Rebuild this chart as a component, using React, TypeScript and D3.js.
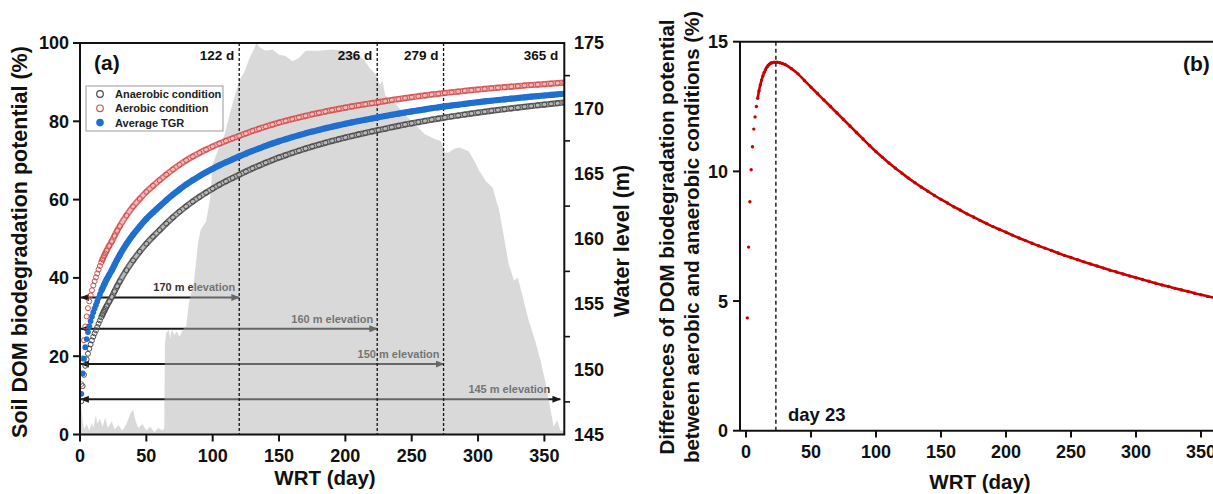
import React from 'react';
import * as d3 from 'd3';

// ---------- data ----------
const days = [1,2,3,4,5,6,7,8,9,10,11,12,13,14,15,16,17,18,19,20,22,24,26,28,30,
  35,40,45,50,55,60,65,70,75,80,85,90,95,100,105,110,115,120,125,130,135,140,145,150,
  155,160,165,170,175,180,185,190,195,200,205,210,215,220,225,230,235,240,245,250,
  255,260,265,270,275,280,285,290,295,300,305,310,315,320,325,330,335,340,345,350,355,360,365];

const anaerobic = [8.5,12.36,15.25,17.55,19.2,20.63,21.91,23.03,24.03,24.97,25.83,26.62,27.45,28.31,29.13,29.92,30.66,31.39,32.06,32.74,33.97,35.14,36.54,37.88,39.12,
  41.97,44.47,46.7,48.73,50.52,52.2,53.89,55.45,56.9,58.28,59.52,60.68,61.77,62.81,63.78,64.68,65.53,66.35,67.17,67.98,68.69,69.42,70.1,70.75,
  71.34,71.93,72.49,73.04,73.56,74.04,74.52,74.99,75.41,75.84,76.26,76.66,77.03,77.4,77.76,78.12,78.5,78.83,79.17,79.48,
  79.8,80.1,80.41,80.68,80.97,81.23,81.47,81.74,81.98,82.22,82.45,82.68,82.89,83.09,83.31,83.5,83.71,83.9,84.09,84.27,84.45,84.63,84.8];

const aerobic = [12.85,19.44,24.08,27.61,30.15,32.26,34.01,35.53,36.85,38.07,39.16,40.14,41.13,42.12,43.05,43.93,44.74,45.52,46.23,46.93,48.18,49.35,50.73,52.04,53.24,
  55.93,58.23,60.2,61.98,63.52,64.95,66.39,67.7,68.9,70.03,71.02,71.93,72.77,73.57,74.32,75.0,75.65,76.28,76.91,77.54,78.08,78.65,79.17,79.67,
  80.12,80.56,80.99,81.4,81.8,82.15,82.51,82.86,83.17,83.49,83.8,84.09,84.36,84.63,84.89,85.16,85.45,85.68,85.93,86.16,
  86.39,86.61,86.84,87.03,87.24,87.42,87.59,87.78,87.95,88.12,88.28,88.44,88.58,88.71,88.87,88.99,89.14,89.27,89.39,89.51,89.63,89.76,89.87];

const averageTGR = [10.38,15.6,19.37,22.28,24.38,26.15,27.66,28.98,30.14,31.22,32.2,33.08,33.99,34.92,35.79,36.63,37.4,38.16,38.85,39.54,40.78,41.95,43.34,44.66,45.88,
  48.65,51.05,53.15,55.06,56.72,58.28,59.84,61.28,62.6,63.86,64.97,66.01,66.97,67.89,68.75,69.54,70.29,71.02,71.74,72.46,73.09,73.74,74.34,74.91,
  75.43,75.95,76.44,76.92,77.38,77.8,78.22,78.63,78.99,79.37,79.73,80.08,80.4,80.72,81.03,81.34,81.68,81.96,82.25,82.52,
  82.8,83.06,83.33,83.56,83.81,84.03,84.23,84.46,84.67,84.87,85.07,85.26,85.44,85.6,85.79,85.95,86.13,86.29,86.44,86.59,86.74,86.9,87.04];

const difference = [4.35,7.08,8.83,10.06,10.95,11.63,12.1,12.5,12.82,13.1,13.33,13.52,13.68,13.81,13.92,14.01,14.08,14.13,14.17,14.19,14.21,14.21,14.19,14.16,14.12,
  13.96,13.76,13.5,13.25,13.0,12.75,12.5,12.25,12.0,11.75,11.5,11.25,11.0,10.76,10.54,10.32,10.12,9.93,9.74,9.56,9.39,9.23,9.07,8.92,
  8.78,8.63,8.5,8.36,8.24,8.11,7.99,7.87,7.76,7.65,7.54,7.43,7.33,7.23,7.13,7.04,6.95,6.85,6.76,6.68,
  6.59,6.51,6.43,6.35,6.27,6.19,6.12,6.04,5.97,5.9,5.83,5.76,5.69,5.62,5.56,5.49,5.43,5.37,5.3,5.24,5.18,5.13,5.07];

const waterDays = [0,1,2,3,5,7,9,10,12,13,15,17,19,21,24,26,29,32,35,38,40,42,44,47,50,53,56,59,62,63.5,
  64,65,67,68,69,71,73,75,78,80,82,86,89,91,95,98,100,104,109,114,118,120,124,128,131,133,135,140,145,150,
  155,160,165,170,180,190,200,210,215,218,223,226,228,230,238,245,253,260,268,272,275,278,282,286,293,298,301,306,311,316,
  318.5,323,327,330,333.6,338,343,347,351,354.6,357,359.6,362,365];
const waterLevel = [145.5,147.2,146.0,145.4,145.8,145.3,145.9,145.5,146.5,145.8,146.2,145.6,146.3,145.5,146.0,145.4,145.7,145.3,145.8,146.6,146.9,146.0,145.5,145.8,145.3,145.6,145.2,145.5,145.3,145.5,
  152.0,152.8,153.0,152.3,153.1,152.6,152.9,152.5,153.1,153.3,155.0,156.8,159.7,160.7,161.3,163.0,165.7,166.8,168.0,170.0,171.4,172.1,172.8,173.9,174.5,175.0,174.7,174.4,174.5,174.1,
  174.0,173.6,173.85,174.4,174.4,174.5,174.4,174.1,173.6,173.1,172.6,171.8,172.1,171.0,170.3,169.5,168.7,168.0,167.6,167.5,166.6,166.6,166.9,167.0,166.7,165.8,165.2,164.4,163.9,162.1,
  160.7,158.1,156.8,157.0,155.6,153.8,152.2,150.7,148.9,146.9,145.6,146.1,145.3,145.3];

const xTicks = [0,50,100,150,200,250,300,350];
const leftTicks = [0,20,40,60,80,100];
const rightLabels = [145,150,155,160,165,170,175];
const rightMinor = [147.5,152.5,157.5,162.5,167.5,172.5];
const bYTicks = [0,5,10,15];
const periodDays = [120,224,274,365];
const periodLabels = ['122 d','236 d','279 d','365 d'];
const elevLabels = ['170 m elevation','160 m elevation','150 m elevation','145 m elevation'];
const elevY = [35,27,18,9];
const elevEnd = [120,224,274,362];
const peakDay = 23;
const legendNames = ['Anaerobic condition','Aerobic condition','Average TGR'];

const FF = "Arial, 'Liberation Sans', Helvetica, sans-serif";

export default function App() {
  const xA = d3.scaleLinear().domain([0, 365]).range([80, 564.3]);
  const yA = d3.scaleLinear().domain([0, 100]).range([434.5, 43]);
  const yW = d3.scaleLinear().domain([145, 175]).range([434.5, 43]);
  const xB = d3.scaleLinear().domain([-4.6, 370]).range([740, 740 + 374.6 * 1.3]);
  const yB = d3.scaleLinear().domain([0, 15]).range([430.7, 41.7]);

  const pairs = (vals: number[]) => days.map((d, i) => [d, vals[i]] as [number, number]);
  const bandA = (vals: number[]) =>
    d3.line<[number, number]>().x(p => xA(p[0])).y(p => yA(p[1])).curve(d3.curveMonotoneX)(pairs(vals).filter(p => p[0] >= 16)) || '';
  const lineB =
    d3.line<[number, number]>().x(p => xB(p[0])).y(p => yB(p[1])).curve(d3.curveMonotoneX)(pairs(difference).filter(p => p[0] >= 9)) || '';
  const waterPath =
    d3.area<[number, number]>().x(p => xA(p[0])).y0(yW(145)).y1(p => yW(p[1]))(waterDays.map((d, i) => [d, waterLevel[i]] as [number, number])) || '';

  const series = [
    { vals: anaerobic, stroke: '#4a4a4a', inner: '#b8b8b8', open: true },
    { vals: aerobic, stroke: '#d24f4f', inner: '#f0b8b8', open: true },
    { vals: averageTGR, stroke: '#1f6fd0', inner: '#1f6fd0', open: false },
  ];

  const tickFont = { fontFamily: FF, fontWeight: 700, fontSize: 18, fill: '#111' } as const;
  const titleFont = { fontFamily: FF, fontWeight: 700, fontSize: 20.5, fill: '#111' } as const;
  const titleFontL = { fontFamily: FF, fontWeight: 700, fontSize: 21.5, fill: '#111' } as const;

  return (
    <svg width={1213} height={494} style={{ position: 'absolute', left: 0, top: 0, background: '#fff' }}>
      <defs>
        <clipPath id="clipA"><rect x={80} y={43} width={564.3 - 80} height={434.5 - 43} /></clipPath>
        <clipPath id="clipB"><rect x={740} y={41.7} width={480} height={430.7 - 41.7} /></clipPath>
        <marker id="arr" viewBox="0 0 10 8" refX={9} refY={4} markerWidth={9} markerHeight={7}
          markerUnits="userSpaceOnUse" orient="auto-start-reverse">
          <path d="M0,0 L10,4 L0,8 Z" fill="#1a1a1a" />
        </marker>
      </defs>

      {/* ===== Panel (a) ===== */}
      {elevLabels.map((lab, i) => (
        <g key={lab}>
          <line x1={xA(0) + 1} x2={xA(elevEnd[i])} y1={yA(elevY[i])} y2={yA(elevY[i])}
            stroke="#1a1a1a" strokeWidth={2} markerStart="url(#arr)" markerEnd="url(#arr)" />
          <text x={xA(elevEnd[i]) - (i === 3 ? 10 : 4)} y={yA(elevY[i]) - 6} textAnchor="end"
            style={{ fontFamily: FF, fontWeight: 700, fontSize: 11, fill: '#333' }}>{lab}</text>
        </g>
      ))}
      <path d={waterPath} fill="#b3b3b3" fillOpacity={0.5} clipPath="url(#clipA)" />
      {periodDays.slice(0, 3).map(d => (
        <line key={d} x1={xA(d)} x2={xA(d)} y1={yA(100)} y2={yA(0)} stroke="#111" strokeWidth={1.3} strokeDasharray="3,2" />
      ))}
      {periodLabels.map((lab, i) => (
        <text key={lab} x={xA(periodDays[i]) - (i === 3 ? 6 : 5)} y={60} textAnchor="end"
          style={{ fontFamily: FF, fontWeight: 700, fontSize: 13.5, fill: '#111' }}>{lab}</text>
      ))}
      <g clipPath="url(#clipA)">
        {series.map((s, k) => (
          <g key={k}>
            <path d={bandA(s.vals)} fill="none" stroke={s.stroke} strokeWidth={6.2} strokeOpacity={s.open ? 0.85 : 1} />
            {s.open && <path d={bandA(s.vals)} fill="none" stroke={s.inner} strokeWidth={3} />}
            {days.map((d, i) => (
              <circle key={d} cx={xA(d)} cy={yA(s.vals[i])} r={s.open ? 2.5 : 2.9}
                fill={s.open ? 'none' : s.stroke} stroke={s.stroke} strokeWidth={s.open ? 1 : 0} />
            ))}
          </g>
        ))}
      </g>
      <rect x={86} y={86} width={137} height={45} fill="#fff" stroke="#9a9a9a" strokeWidth={1} />
      {legendNames.map((n, i) => (
        <g key={n}>
          {series[i].open
            ? <circle cx={100} cy={94 + i * 14.3} r={3.3} fill="none" stroke={series[i].stroke} strokeWidth={1.2} />
            : <circle cx={100} cy={94 + i * 14.3} r={3.8} fill={series[i].stroke} />}
          <text x={115} y={94 + i * 14.3} dy="0.36em" style={{ fontFamily: FF, fontWeight: 700, fontSize: 11, fill: '#222' }}>{n}</text>
        </g>
      ))}
      <text x={94} y={70} style={{ fontFamily: FF, fontWeight: 700, fontSize: 21, fill: '#111' }}>(a)</text>

      <rect x={80} y={43} width={564.3 - 80} height={434.5 - 43} fill="none" stroke="#111" strokeWidth={2} />
      {leftTicks.map(t => (
        <g key={t}>
          <line x1={73} x2={80} y1={yA(t)} y2={yA(t)} stroke="#111" strokeWidth={2} />
          <text x={69} y={yA(t)} dy="0.36em" textAnchor="end" style={tickFont}>{t}</text>
        </g>
      ))}
      {xTicks.map(t => (
        <g key={t}>
          <line x1={xA(t)} x2={xA(t)} y1={434.5} y2={441.5} stroke="#111" strokeWidth={2} />
          <text x={xA(t)} y={462} textAnchor="middle" style={tickFont}>{t}</text>
        </g>
      ))}
      {rightMinor.map(t => (
        <line key={t} x1={564.3} x2={570} y1={yW(t)} y2={yW(t)} stroke="#111" strokeWidth={1.6} />
      ))}
      {rightLabels.map(t => (
        <text key={t} x={574} y={yW(t)} dy="0.36em" textAnchor="start" style={tickFont}>{t}</text>
      ))}
      <text transform="translate(27,242) rotate(-90)" textAnchor="middle" style={titleFontL}>Soil DOM biodegradation potential (%)</text>
      <text transform="translate(629,241) rotate(-90)" textAnchor="middle" style={titleFontL}>Water level (m)</text>
      <text x={325} y={485} textAnchor="middle" style={titleFont}>WRT (day)</text>

      {/* ===== Panel (b) ===== */}
      <line x1={xB(peakDay)} x2={xB(peakDay)} y1={yB(15)} y2={yB(0)} stroke="#111" strokeWidth={1.4} strokeDasharray="4,3" />
      <g clipPath="url(#clipB)">
        <path d={lineB} fill="none" stroke="#c80000" strokeWidth={2.6} />
        {days.map((d, i) => (
          <circle key={d} cx={xB(d)} cy={yB(difference[i])} r={1.7} fill="#c80000" />
        ))}
      </g>
      <line x1={740} x2={1213} y1={41.7} y2={41.7} stroke="#111" strokeWidth={2} />
      <line x1={740} x2={1213} y1={430.7} y2={430.7} stroke="#111" strokeWidth={2} />
      <line x1={740} x2={740} y1={41.7} y2={430.7} stroke="#111" strokeWidth={2} />
      {bYTicks.map(t => (
        <g key={t}>
          <line x1={733} x2={740} y1={yB(t)} y2={yB(t)} stroke="#111" strokeWidth={2} />
          <text x={728} y={yB(t)} dy="0.36em" textAnchor="end" style={tickFont}>{t}</text>
        </g>
      ))}
      {xTicks.map(t => (
        <g key={t}>
          <line x1={xB(t)} x2={xB(t)} y1={430.7} y2={437.5} stroke="#111" strokeWidth={2} />
          <text x={xB(t)} y={458} textAnchor="middle" style={tickFont}>{t}</text>
        </g>
      ))}
      <text x={xB(peakDay) + 12} y={421} style={{ fontFamily: FF, fontWeight: 700, fontSize: 18.5, fill: '#111' }}>day 23</text>
      <text x={1183} y={71} style={{ fontFamily: FF, fontWeight: 700, fontSize: 21, fill: '#111' }}>(b)</text>
      <text transform="translate(674,237) rotate(-90)" textAnchor="middle" style={titleFont}>Differences of DOM biodegradation potential</text>
      <text transform="translate(699,237) rotate(-90)" textAnchor="middle" style={titleFont}>between aerobic and anaerobic conditions (%)</text>
      <text x={980} y={489} textAnchor="middle" style={titleFont}>WRT (day)</text>
    </svg>
  );
}
